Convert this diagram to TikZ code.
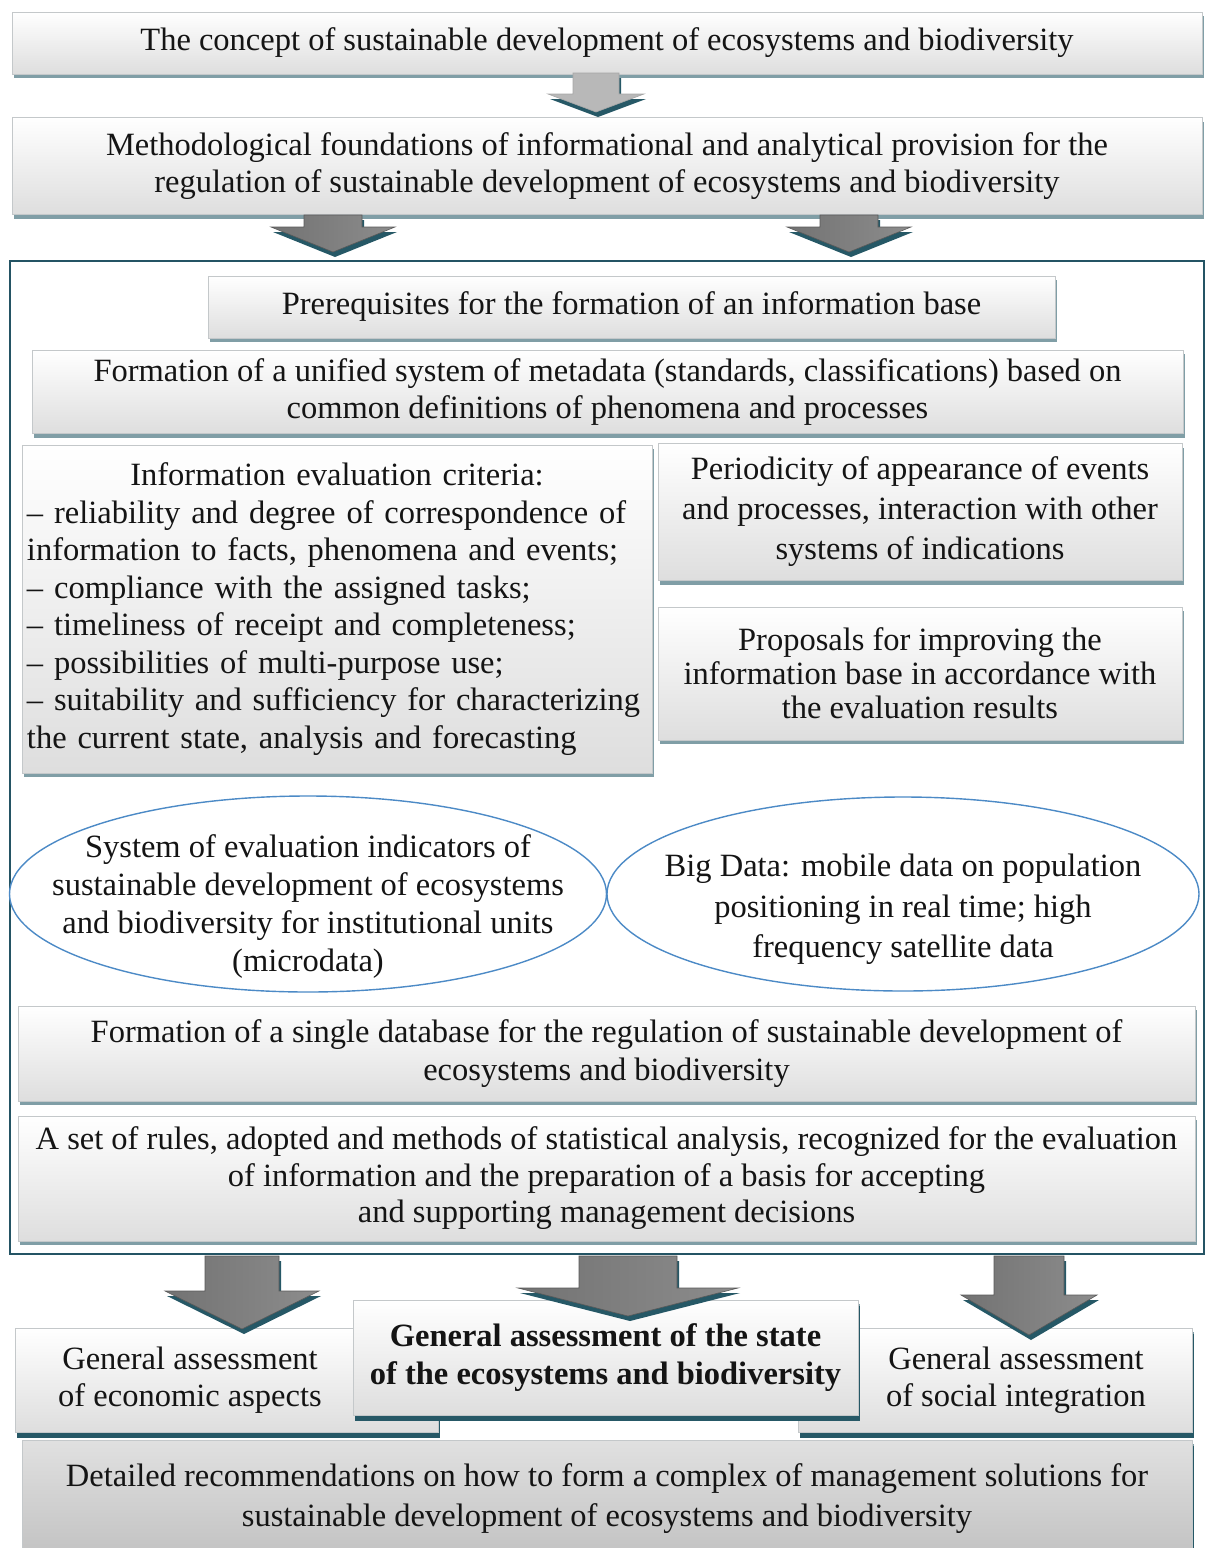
\documentclass[tikz,border=0pt]{standalone}
\usepackage{fontspec}
\setmainfont{Liberation Serif}
\usetikzlibrary{shapes.geometric, shadows}

% block arrow: style, x, top, tip, half shaft, half head, head length
\newcommand{\blockarrow}[7]{%
  \fill[arrowShadow, xshift=2pt, yshift=-5pt]
    (#2-#5,#3) -- (#2+#5,#3) -- (#2+#5,#4-#7) -- (#2+#6,#4-#7) -- (#2,#4)
    -- (#2-#6,#4-#7) -- (#2-#5,#4-#7) -- cycle;
  \path[#1]
    (#2-#5,#3) -- (#2+#5,#3) -- (#2+#5,#4-#7) -- (#2+#6,#4-#7) -- (#2,#4)
    -- (#2-#6,#4-#7) -- (#2-#5,#4-#7) -- cycle;
}

\begin{document}
\begin{tikzpicture}[
    x=1pt, y=-1pt,
    every node/.style={font=\fontsize{32.5}{37.5}\selectfont, align=center, text=black!92},
    box/.style={
      rectangle, draw=boxEdge, line width=0.9pt, inner sep=8pt,
      top color=white, bottom color=black!13,
      drop shadow={shadow xshift=2pt, shadow yshift=-4pt, fill=boxShadow, opacity=1}
    },
    lowbox/.style={
      box,
      drop shadow={shadow xshift=2pt, shadow yshift=-6pt, fill=arrowShadow, opacity=1}
    },
    oval/.style={
      ellipse, draw=ovalBlue, line width=1.4pt, fill=white,
      inner xsep=-52pt, inner ysep=-20pt
    },
    frame/.style={rectangle, draw=frameTeal, line width=2.8pt},
    lightarr/.style={left color=black!28, middle color=white, right color=black!28, draw=black!35, line width=0.6pt},
    darkarr/.style={left color=black!55, middle color=black!22, right color=black!45, draw=black!65, line width=0.6pt}
  ]
    \definecolor{boxEdge}{RGB}{196,200,202}
    \definecolor{boxShadow}{RGB}{128,158,166}
    \definecolor{arrowShadow}{RGB}{38,88,102}
    \definecolor{frameTeal}{RGB}{36,84,100}
    \definecolor{ovalBlue}{RGB}{76,138,198}

    \useasboundingbox (0,0) rectangle (1206,1548);

    % top of the scheme
    \node[box, minimum width=1190, minimum height=62] (concept) at (607,43)
      {The concept of sustainable development of ecosystems and biodiversity};
    \node[box, minimum width=1190, minimum height=97] (method) at (607,166)
      {Methodological foundations of informational and analytical provision for the\\
       regulation of sustainable development of ecosystems and biodiversity};

    % information base frame
    \node[frame, minimum width=1194, minimum height=993] (base) at (607,1254.5-497) {};

    \node[box, minimum width=847, minimum height=62] (prereq) at (631.5,307)
      {Prerequisites for the formation of an information base};
    \node[box, minimum width=1151, minimum height=82] (meta) at (607.5,392)
      {Formation of a unified system of metadata (standards, classifications) based on\\
       common definitions of phenomena and processes};

    \node[box, minimum width=630, minimum height=328, text width=620, inner xsep=5pt, align=left] (criteria) at (337,609)
      {\makebox[\linewidth][c]{Information evaluation criteria:}\\
       -- reliability and degree of correspondence of\\
       information to facts, phenomena and events;\\
       -- compliance with the assigned tasks;\\
       -- timeliness of receipt and completeness;\\
       -- possibilities of multi-purpose use;\\
       -- suitability and sufficiency for characterizing\\
       the current state, analysis and forecasting};
    \node[box, minimum width=524, minimum height=137, font=\fontsize{32.5}{40}\selectfont] (period) at (920,512)
      {Periodicity of appearance of events\\
       and processes, interaction with other\\
       systems of indications};
    \node[box, minimum width=524, minimum height=133, font=\fontsize{32.5}{34}\selectfont] (propose) at (920,673.5)
      {Proposals for improving the\\
       information base in accordance with\\
       the evaluation results};

    \node[oval, minimum width=597, minimum height=196, font=\fontsize{32.5}{38}\selectfont] (indic) at (308,894)
      {\rule{0pt}{47pt}System of evaluation indicators of\\
       sustainable development of ecosystems\\
       and biodiversity for institutional units\\
       (microdata)};
    \node[oval, minimum width=592, minimum height=194, font=\fontsize{32.5}{40.5}\selectfont] (bigdata) at (903,894)
      {\rule{0pt}{53pt}Big Data: mobile data on population\\
       positioning in real time; high\\
       frequency satellite data};

    \node[box, minimum width=1177, minimum height=95] (single) at (606.5,1053.5)
      {Formation of a single database for the regulation of sustainable development of\\
       ecosystems and biodiversity};
    \node[box, minimum width=1177, minimum height=125, font=\fontsize{32.5}{36.5}\selectfont] (rules) at (606.5,1178.5)
      {A set of rules, adopted and methods of statistical analysis, recognized for the evaluation\\
       of information and the preparation of a basis for accepting\\
       and supporting management decisions};

    % assessments
    \node[lowbox, minimum width=423, minimum height=104] (econ) at (226.5,1380)
      {\makebox[407pt][l]{\parbox{334pt}{\centering General assessment\\of economic aspects}}};
    \node[lowbox, minimum width=394, minimum height=104] (social) at (995,1380)
      {\makebox[378pt][r]{\parbox{300pt}{\centering General assessment\\of social integration}\hspace{18pt}}};
    \node[lowbox, minimum width=505, minimum height=115, font=\fontsize{32.5}{38}\selectfont\bfseries] (state) at (605.5,1357.5)
      {General assessment of the state\\
       of the ecosystems and biodiversity};

    \node[lowbox, minimum width=1170, minimum height=118, top color=black!12, bottom color=black!24,
      font=\fontsize{32.5}{40}\selectfont] (detail) at (607,1499)
      {Detailed recommendations on how to form a complex of management solutions for\\
       sustainable development of ecosystems and biodiversity};

    % block arrows
    \blockarrow{lightarr}{596}{73}{112}{23}{48}{18}
    \blockarrow{darkarr}{333}{215}{252}{29}{62}{25}
    \blockarrow{darkarr}{849}{215}{252}{29}{62}{25}
    \blockarrow{darkarr}{242}{1256}{1329}{37}{77}{38}
    \blockarrow{darkarr}{628}{1256}{1316}{49}{110}{28}
    \blockarrow{darkarr}{1029}{1256}{1335}{35}{68}{40}
  \end{tikzpicture}
\end{document}
